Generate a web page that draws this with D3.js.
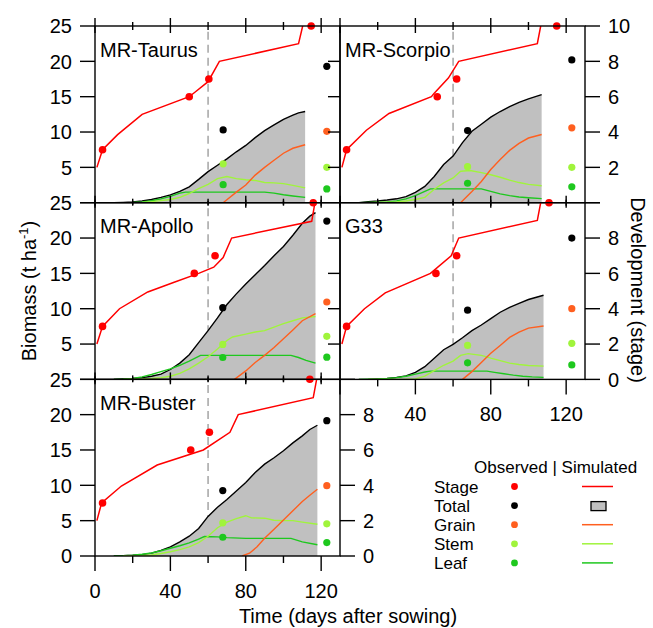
<!DOCTYPE html>
<html>
<head>
<meta charset="utf-8">
<script src="https://cdn.jsdelivr.net/npm/d3@7"></script>
<style>
  body { margin: 0; background: #fff; }
  svg { display: block; }
  text { font-family: "Liberation Sans", Arial, sans-serif; fill: #000; }
</style>
</head>
<body>
<svg id="chart" width="653" height="628"></svg>
<script>
// Cultivars, in panel order (left/right, top to bottom)
const cultivars = ["MR-Taurus", "MR-Scorpio", "MR-Apollo", "G33", "MR-Buster"];

// Simulated development stage, [day, stage]
const simStage = [
  [[1,2],[4,3],[12,3.85],[25,5],[50,6],[53,6.25],[60,6.85],[66,8],[108,9],[110.2,10]],
  [[1,2],[3.5,3],[14,4.1],[26,5.05],[48.5,6],[50,6.2],[57.5,7.05],[63,8],[104.7,9],[106.5,10]],
  [[1,2],[4,3],[13,4],[28,4.95],[42,5.5],[55,6],[63,6.35],[68,6.9],[72.5,8],[115,8.95],[116.7,10]],
  [[1,2],[3.5,3],[13,4],[24,4.9],[48,6],[59,7],[63,8],[104.7,9],[106.5,10]],
  [[1,2],[3.5,3],[14,3.96],[33,5.15],[57.5,6],[71.6,7],[76,8],[115.8,8.96],[117.6,10]]
];

// Simulated total biomass (t/ha), [day, value]
const simTotal = [
  [[10,0],[15,0.05],[20,0.12],[25,0.25],[30,0.45],[35,0.75],[40,1.1],[45,1.6],[50,2.25],[55,3.3],[60,4.4],[65,5.3],[70,6.2],[75,7.2],[80,8.1],[85,9.2],[90,10.2],[95,11.0],[100,11.8],[105,12.4],[108,12.7],[111.5,12.9]],
  [[10,0],[15,0.15],[20,0.25],[25,0.38],[30,0.55],[35,0.85],[40,1.45],[45,2.3],[50,3.7],[55,5.4],[60,6.6],[65,8.5],[70,10.1],[75,11.1],[80,12.1],[85,12.9],[90,13.6],[95,14.2],[100,14.7],[107,15.3]],
  [[10,0],[15,0.05],[20,0.12],[25,0.25],[30,0.45],[35,0.75],[40,1.4],[45,2.3],[50,3.5],[55,5.2],[60,6.9],[65,8.7],[70,10.6],[75,12.1],[80,13.5],[85,14.8],[90,16.1],[95,17.5],[100,18.8],[105,20.4],[110,22.1],[114,23.1],[117,23.6]],
  [[10,0],[15,0.02],[20,0.08],[25,0.15],[30,0.28],[35,0.5],[40,1.0],[45,1.8],[50,3.0],[55,4.2],[60,4.95],[65,5.9],[70,6.9],[75,7.7],[80,8.6],[85,9.5],[90,10.2],[95,10.75],[100,11.3],[108,11.9]],
  [[10,0],[15,0.03],[20,0.1],[25,0.2],[30,0.4],[35,0.8],[40,1.3],[45,2.0],[50,2.8],[55,3.9],[60,5.6],[65,6.9],[70,8.0],[75,9.2],[80,10.4],[85,11.8],[90,13.0],[95,13.9],[100,14.9],[105,16.0],[110,17.0],[114,17.9],[118,18.5]]
];

// Simulated grain biomass
const simGrain = [
  [[68,0],[75,1.5],[80,2.5],[85,3.9],[90,5.0],[95,6.0],[100,7.0],[105,7.7],[111.5,8.2]],
  [[64,0],[70,1.6],[75,3.0],[80,4.7],[85,6.1],[90,7.4],[95,8.4],[100,9.15],[107,9.65]],
  [[74,0],[80,1.2],[85,2.4],[90,3.4],[95,4.5],[100,5.75],[105,7.0],[110,8.3],[117,9.3]],
  [[65,0],[70,1.1],[75,2.4],[80,3.7],[85,4.8],[90,5.95],[95,6.7],[100,7.25],[108,7.55]],
  [[78,0],[82,0.4],[86,1.3],[90,2.5],[95,3.8],[100,5.1],[105,6.4],[110,7.7],[114,8.6],[118,9.45]]
];

// Simulated stem biomass
const simStem = [
  [[15,0],[25,0.05],[30,0.15],[35,0.3],[40,0.45],[45,0.75],[50,1.3],[55,2.0],[60,2.6],[65,3.4],[70,3.7],[75,3.4],[80,3.25],[85,3.15],[90,2.85],[95,2.8],[100,2.7],[105,2.45],[111.5,2.1]],
  [[15,0],[30,0.1],[35,0.25],[40,0.45],[45,0.75],[50,1.9],[55,2.8],[60,3.5],[64,4.45],[69,4.55],[75,4.25],[80,3.95],[85,3.6],[90,3.2],[95,2.85],[100,2.6],[107,2.4]],
  [[15,0],[25,0.05],[30,0.12],[35,0.25],[40,0.45],[45,0.85],[50,1.5],[55,2.3],[60,3.2],[65,4.3],[70,5.5],[73,6.0],[80,6.4],[85,6.7],[90,6.9],[95,7.4],[100,7.9],[105,8.3],[110,8.7],[117,8.9]],
  [[15,0],[35,0.03],[40,0.08],[45,0.45],[50,1.25],[55,2.0],[60,2.6],[64,3.4],[68,3.65],[75,3.4],[80,3.0],[85,2.65],[90,2.3],[95,2.1],[100,1.97],[108,1.88]],
  [[15,0],[25,0.05],[30,0.15],[35,0.35],[40,0.6],[45,0.9],[50,1.3],[55,1.9],[60,2.8],[65,4.0],[70,4.8],[75,5.3],[80,5.7],[83,5.4],[90,5.35],[95,5.05],[100,5.0],[105,5.0],[110,4.8],[118,4.5]]
];

// Simulated leaf biomass
const simLeaf = [
  [[10,0],[20,0.05],[25,0.12],[30,0.28],[35,0.55],[40,0.9],[45,1.35],[48,1.5],[90,1.5],[95,1.35],[100,1.13],[105,0.95],[111.5,0.75]],
  [[10,0],[25,0.1],[30,0.25],[35,0.55],[40,1.0],[45,1.6],[48,1.95],[75,1.95],[80,1.6],[85,1.25],[90,1.0],[95,0.8],[100,0.7],[107,0.57]],
  [[10,0],[15,0.05],[20,0.15],[25,0.35],[30,0.7],[35,1.1],[40,1.5],[45,2.0],[50,2.6],[56,3.4],[104,3.4],[108,3.1],[112,2.7],[117,2.3]],
  [[10,0],[20,0.05],[25,0.12],[30,0.25],[35,0.45],[40,0.75],[45,1.05],[48,1.17],[78,1.17],[82,1.0],[87,0.8],[92,0.6],[97,0.45],[102,0.35],[108,0.28]],
  [[10,0],[15,0.05],[20,0.12],[25,0.25],[30,0.42],[35,0.75],[40,1.1],[45,1.45],[50,1.85],[55,2.4],[58,2.75],[65,2.7],[70,2.6],[80,2.5],[104,2.5],[110,2.0],[118,1.6]]
];

// Observations
const obsStage = [
  [[4,3],[50,6],[60.4,7],[114.7,10]],
  [[3.5,3],[51.6,6],[61.9,7],[115,10]],
  [[4,3],[52.7,6],[63.7,7],[115.8,10]],
  [[3.5,3],[50.9,6],[61.9,7],[110.9,10]],
  [[4,3],[50.8,6],[60.7,7],[114,10]]
];
const obsTotal = [
  [[68,10.3],[123,19.3]],
  [[67.7,10.2],[123,20.2]],
  [[67.8,10.15],[123,22.4]],
  [[67.7,9.8],[123,20.0]],
  [[67.8,9.25],[123,19.15]]
];
const obsGrain = [[[123,10.1]], [[123,10.6]], [[123,10.95]], [[123,10.0]], [[123,9.95]]];
const obsStem = [
  [[68,5.5],[123,5.0]],
  [[67.7,5.1],[123,5.0]],
  [[67.8,4.95],[123,6.1]],
  [[67.7,4.8],[123,5.1]],
  [[67.8,4.7],[123,4.55]]
];
const obsLeaf = [
  [[68,2.55],[123,1.95]],
  [[67.7,2.75],[123,2.25]],
  [[67.8,3.1],[123,3.15]],
  [[67.7,2.35],[123,2.05]],
  [[67.8,2.65],[123,1.9]]
];

// Flowering marker (days after sowing)
const floweringDay = 60;

// Axis ticks
const dayMajor = [0, 40, 80, 120];
const dayMinor = [20, 60, 100];
const biomassTicks = [0, 5, 10, 15, 20, 25];
const stageTicks = [0, 2, 4, 6, 8, 10];

// Legend
const legendNames = ["Stage", "Total", "Grain", "Stem", "Leaf"];
const colors = { Stage: "#ff0000", Total: "#000000", Grain: "#ff5f1f", Stem: "#a0f43c", Leaf: "#1ec81e" };
const areaFill = "#c0c0c0";

// ---------- layout ----------
const svg = d3.select("#chart");
const colX = [95, 340];
const panelW = 245;
const rowTop = [26, 202.7, 379.3];
const panelH = 176.7;
const slots = [[0,0],[1,0],[0,1],[1,1],[0,2]];

const line = (x, y) => d3.line().x(d => x(d[0])).y(d => y(d[1]));

cultivars.forEach((name, i) => {
  const [col, row] = slots[i];
  const x0 = colX[col], top = rowTop[row], bottom = top + panelH;
  const x = d3.scaleLinear().domain([0, 130]).range([x0, x0 + panelW]);
  const yB = d3.scaleLinear().domain([0, 25]).range([bottom, top]);
  const yS = d3.scaleLinear().domain([0, 10]).range([bottom, top]);

  const g = svg.append("g");
  const clipId = "clip" + i;
  svg.append("clipPath").attr("id", clipId).append("rect")
    .attr("x", x0).attr("y", top).attr("width", panelW).attr("height", panelH);
  const plot = g.append("g").attr("clip-path", `url(#${clipId})`);

  // flowering marker
  plot.append("line")
    .attr("x1", x(floweringDay)).attr("x2", x(floweringDay))
    .attr("y1", yB(24.2)).attr("y2", yB(0))
    .attr("stroke", "#b4b4b4").attr("stroke-width", 1.8).attr("stroke-dasharray", "8,5");

  // total biomass area
  plot.append("path").datum(simTotal[i])
    .attr("d", d3.area().x(d => x(d[0])).y0(yB(0)).y1(d => yB(d[1])))
    .attr("fill", areaFill);
  plot.append("path").datum(simTotal[i])
    .attr("d", line(x, yB)).attr("fill", "none").attr("stroke", "#000").attr("stroke-width", 1.4);

  [["Leaf", simLeaf], ["Stem", simStem], ["Grain", simGrain]].forEach(([k, arr]) => {
    plot.append("path").datum(arr[i])
      .attr("d", line(x, yB)).attr("fill", "none")
      .attr("stroke", colors[k]).attr("stroke-width", 1.4);
  });
  plot.append("path").datum(simStage[i])
    .attr("d", line(x, yS)).attr("fill", "none")
    .attr("stroke", colors.Stage).attr("stroke-width", 1.5);

  // observations
  const dots = g.append("g");
  [["Total", obsTotal], ["Grain", obsGrain], ["Stem", obsStem], ["Leaf", obsLeaf]].forEach(([k, arr]) => {
    dots.selectAll(null).data(arr[i]).join("circle")
      .attr("cx", d => x(d[0])).attr("cy", d => yB(d[1])).attr("r", 3.6)
      .attr("fill", colors[k]);
  });
  dots.selectAll(null).data(obsStage[i]).join("circle")
    .attr("cx", d => x(d[0])).attr("cy", d => yS(d[1])).attr("r", 3.8)
    .attr("fill", colors.Stage);

  // frame
  g.append("rect").attr("x", x0).attr("y", top).attr("width", panelW).attr("height", panelH)
    .attr("fill", "none").attr("stroke", "#000").attr("stroke-width", 1.4);

  const axes = g.append("g").attr("stroke", "#000").attr("stroke-width", 1.4);
  const tickLine = (xa, ya, xb, yb) => axes.append("line")
    .attr("x1", xa).attr("y1", ya).attr("x2", xb).attr("y2", yb);

  // day ticks on top edge
  dayMajor.forEach(d => row === 0 ? tickLine(x(d), top - 8, x(d), top + 7) : tickLine(x(d), top - 3, x(d), top + 5));
  dayMinor.forEach(d => row === 0 ? tickLine(x(d), top - 4, x(d), top + 4) : tickLine(x(d), top - 2, x(d), top + 3));

  // day ticks on bottom edge
  const lastInCol = (col === 0 && row === 2) || (col === 1 && row === 1);
  if (lastInCol) {
    dayMajor.forEach(d => tickLine(x(d), bottom, x(d), bottom + 15));
    dayMinor.forEach(d => tickLine(x(d), bottom, x(d), bottom + 7));
    g.append("g").selectAll("text")
      .data(dayMajor.filter(d => col === 0 || d > 0)).join("text")
      .attr("x", d => x(d)).attr("y", bottom + 42)
      .attr("text-anchor", "middle").attr("font-size", 20).text(d => d);
  } else {
    dayMajor.forEach(d => tickLine(x(d), bottom - 7, x(d), bottom + 3));
    dayMinor.forEach(d => tickLine(x(d), bottom - 4, x(d), bottom + 2));
  }

  if (col === 0) {
    // biomass axis on the left
    biomassTicks.forEach(v => tickLine(x0 - 15, yB(v), x0, yB(v)));
    g.append("g").selectAll("text")
      .data(biomassTicks.filter(v => row === 2 || v > 0)).join("text")
      .attr("x", x0 - 23).attr("y", d => yB(d)).attr("dy", "0.36em")
      .attr("text-anchor", "end").attr("font-size", 20).text(d => d);
  } else {
    biomassTicks.filter(v => v > 0 && v < 25).forEach(v => tickLine(x0 - 12, yB(v), x0, yB(v)));
  }

  // development stage axis on the right
  const hasStageAxis = col === 1 || row === 2;
  if (hasStageAxis) {
    const xr = x0 + panelW;
    stageTicks.forEach(v => tickLine(xr, yS(v), xr + 15, yS(v)));
    const shown = stageTicks.filter(v => (row === 0 ? v > 0 : v < 10));
    g.append("g").selectAll("text").data(shown).join("text")
      .attr("x", xr + 23).attr("y", d => yS(d)).attr("dy", "0.36em")
      .attr("text-anchor", "start").attr("font-size", 20).text(d => d);
  }

  // cultivar name
  g.append("text").attr("x", x0 + 5).attr("y", top + 30.5)
    .attr("font-size", 20).text(name);
});

// axis titles
const yTitle = svg.append("text")
  .attr("transform", "translate(36,291) rotate(-90)")
  .attr("text-anchor", "middle").attr("font-size", 20);
yTitle.append("tspan").text("Biomass (t ha");
yTitle.append("tspan").attr("font-size", 13).attr("dy", -8).text("-1");
yTitle.append("tspan").attr("dy", 8).text(")");

svg.append("text")
  .attr("transform", "translate(631,290) rotate(90)")
  .attr("text-anchor", "middle").attr("font-size", 20)
  .text("Development (stage)");

svg.append("text").attr("x", 348).attr("y", 623)
  .attr("text-anchor", "middle").attr("font-size", 20)
  .text("Time (days after sowing)");

// legend
const lg = svg.append("g");
lg.append("text").attr("x", 474).attr("y", 473).attr("font-size", 17).text("Observed | Simulated");
legendNames.forEach((k, j) => {
  const cy = 486.5 + j * 19.1;
  lg.append("text").attr("x", 434).attr("y", cy).attr("dy", "0.36em").attr("font-size", 17).text(k);
  lg.append("circle").attr("cx", 514.5).attr("cy", cy).attr("r", 3.4).attr("fill", colors[k]);
  if (k === "Total") {
    lg.append("rect").attr("x", 591).attr("y", cy - 4).attr("width", 15).attr("height", 9)
      .attr("fill", areaFill).attr("stroke", "#000").attr("stroke-width", 1.3);
  } else {
    lg.append("line").attr("x1", 582).attr("x2", 613).attr("y1", cy).attr("y2", cy)
      .attr("stroke", colors[k]).attr("stroke-width", 1.5);
  }
});
</script>
</body>
</html>
